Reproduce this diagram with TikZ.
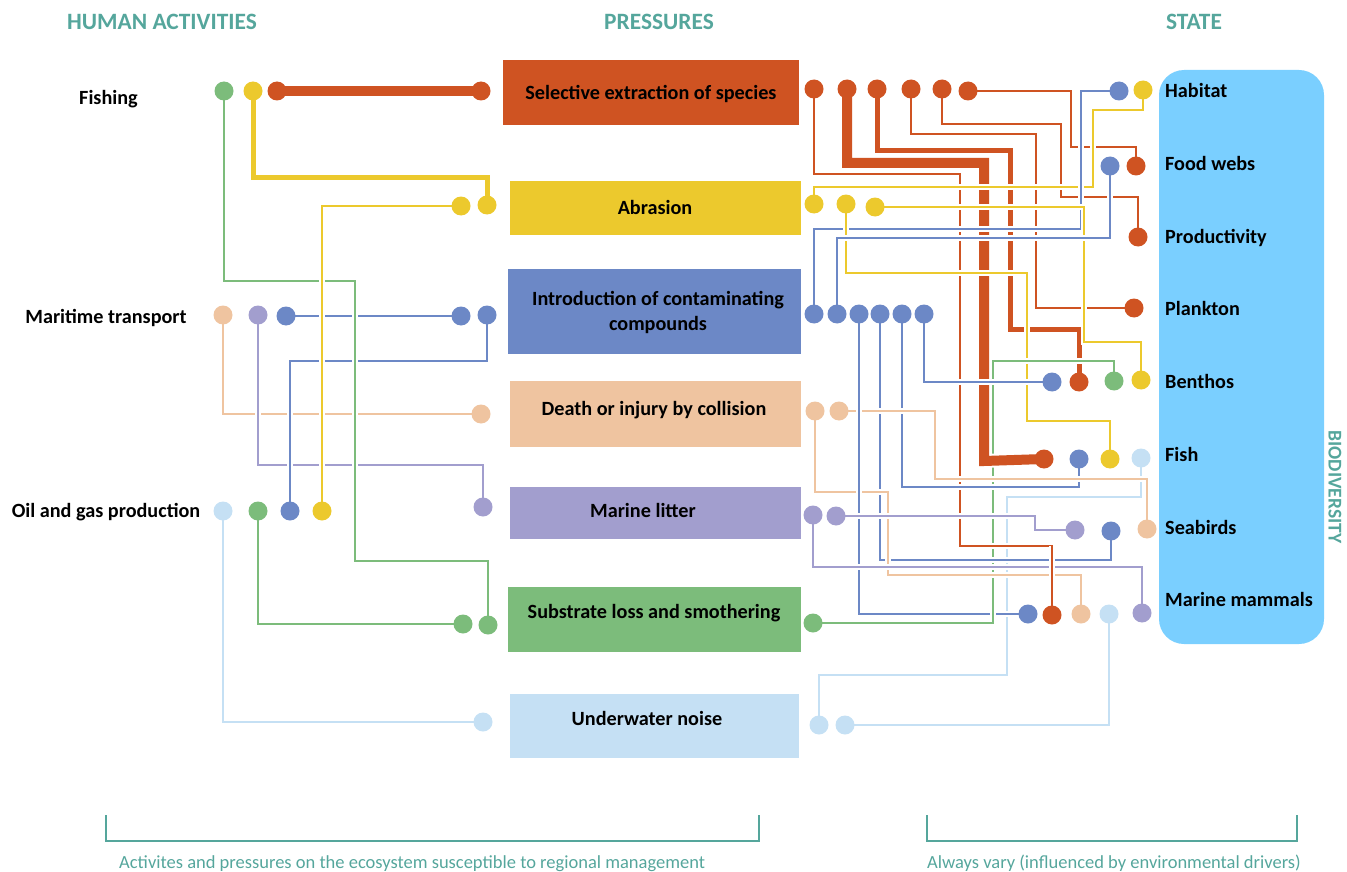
\documentclass[tikz,border=0pt]{standalone}
\usepackage{fontspec}
\setmainfont{Carlito}
\pgfdeclarelayer{wires}
\pgfsetlayers{wires,main}
\definecolor{cred}{HTML}{CF5322}
\definecolor{cyel}{HTML}{ECC92D}
\definecolor{cblu}{HTML}{6C88C6}
\definecolor{cpea}{HTML}{EFC4A0}
\definecolor{cpur}{HTML}{A29ECE}
\definecolor{cgre}{HTML}{7CBC7B}
\definecolor{clbl}{HTML}{C5E0F4}
\definecolor{cpan}{HTML}{7ACFFF}
\definecolor{cteal}{HTML}{55A69C}
\tikzset{
  dot/.style={circle,inner sep=0pt,minimum size=19pt,fill=#1},
  wire/.style={draw=#1,line width=2.3pt,line join=miter,preaction={draw=white,line width=6pt}},
  midwire/.style={draw=#1,line width=5pt,line join=miter,preaction={draw=white,line width=9pt}},
  fatwire/.style={draw=#1,line width=10pt,line join=miter,preaction={draw=white,line width=14pt}},
  pbox/.style={fill=#1,draw=none},
  lab/.style={font=\fontsize{20.2}{25}\selectfont\bfseries,text=black,inner sep=0pt,align=center,anchor=base},
  statelab/.style={lab,anchor=base west},
  head/.style={font=\fontsize{23.4}{26}\selectfont\bfseries,text=cteal,inner sep=0pt},
  note/.style={font=\fontsize{18.5}{22}\selectfont,text=cteal,inner sep=0pt,anchor=west},
  bracket/.style={draw=cteal,line width=1.5pt}
}
\begin{document}
\begin{tikzpicture}[x=1pt,y=-1pt]
\useasboundingbox (0,0) rectangle (1347,872);
% panel
\draw[fill=cpan,draw=none,rounded corners=25pt] (1159,70) rectangle (1324,644);
% boxes
\path[pbox=cred] (503,60) rectangle (799,125);
\path[pbox=cyel] (510,181) rectangle (801,235);
\path[pbox=cblu] (508,269) rectangle (801,354);
\path[pbox=cpea] (510,381) rectangle (801,447);
\path[pbox=cpur] (510,487) rectangle (801,539);
\path[pbox=cgre] (508,587) rectangle (801,652);
\path[pbox=clbl] (510,694) rectangle (799,758);
% headers
\node[head] (hA) at (162,22) {HUMAN ACTIVITIES};
\node[head] (hP) at (659,22) {PRESSURES};
\node[head] (hS) at (1194,22) {STATE};
\node[head,font=\fontsize{19.5}{22}\selectfont\bfseries,rotate=-90] (hB) at (1335,487) {BIODIVERSITY};
% activity labels
\node[lab] (aF) at (108.5,105) {Fishing};
\node[lab] (aM) at (106,323) {Maritime transport};
\node[lab] (aO) at (106,517) {Oil and gas production};
% pressure labels
\node[lab] (pS) at (651,99.5) {Selective extraction of species};
\node[lab] (pA) at (655,214.5) {Abrasion};
\node[lab] (pI1) at (658,305.5) {Introduction of contaminating};
\node[lab] (pI2) at (658,330.5) {compounds};
\node[lab] (pD) at (654,415.5) {Death or injury by collision};
\node[lab] (pM) at (643,517.5) {Marine litter};
\node[lab] (pL) at (654,618.5) {Substrate loss and smothering};
\node[lab] (pU) at (647,725.5) {Underwater noise};
% state labels
\node[statelab] (sH) at (1165,97.5) {Habitat};
\node[statelab] (sW) at (1165,170.5) {Food webs};
\node[statelab] (sP) at (1165,243.5) {Productivity};
\node[statelab] (sK) at (1165,315.5) {Plankton};
\node[statelab] (sB) at (1165,388.5) {Benthos};
\node[statelab] (sF) at (1165,461.5) {Fish};
\node[statelab] (sS) at (1165,534.5) {Seabirds};
\node[statelab] (sM) at (1165,606.5) {Marine mammals};
% left dots
\node[dot=cgre] (fG) at (224,91) {};
\node[dot=cyel] (fY) at (253,91) {};
\node[dot=cred] (fR) at (277,91) {};
\node[dot=cred] (iR) at (481,91) {};
\node[dot=cyel] (iY1) at (461,206) {};
\node[dot=cyel] (iY2) at (487,205) {};
\node[dot=cpea] (mP) at (223,315) {};
\node[dot=cpur] (mU) at (258,315) {};
\node[dot=cblu] (mB) at (286,316) {};
\node[dot=cblu] (iB1) at (461,316) {};
\node[dot=cblu] (iB2) at (487,315) {};
\node[dot=cpea] (iP) at (481,414) {};
\node[dot=cpur] (iU) at (483,507) {};
\node[dot=clbl] (oL) at (223,511) {};
\node[dot=cgre] (oG) at (258,511) {};
\node[dot=cblu] (oB) at (290,511) {};
\node[dot=cyel] (oY) at (322,511) {};
\node[dot=cgre] (iG1) at (463,624) {};
\node[dot=cgre] (iG2) at (488,625) {};
\node[dot=clbl] (iL) at (483,722) {};
% right pressure dots
\node[dot=cred] (r1) at (814,89) {};
\node[dot=cred] (r2) at (847,89) {};
\node[dot=cred] (r3) at (877,89) {};
\node[dot=cred] (r4) at (911,89) {};
\node[dot=cred] (r5) at (942,89) {};
\node[dot=cred] (r6) at (968,91) {};
\node[dot=cyel] (y1) at (814,204) {};
\node[dot=cyel] (y2) at (846,204) {};
\node[dot=cyel] (y3) at (875,207) {};
\node[dot=cblu] (b1) at (814,314) {};
\node[dot=cblu] (b2) at (837,314) {};
\node[dot=cblu] (b3) at (859,314) {};
\node[dot=cblu] (b4) at (880,314) {};
\node[dot=cblu] (b5) at (902,314) {};
\node[dot=cblu] (b6) at (924,314) {};
\node[dot=cpea] (p1) at (815,411) {};
\node[dot=cpea] (p2) at (839,411) {};
\node[dot=cpur] (m1) at (813,515) {};
\node[dot=cpur] (m2) at (836,516) {};
\node[dot=cgre] (g1) at (813,623) {};
\node[dot=clbl] (l1) at (819,725) {};
\node[dot=clbl] (l2) at (845,725) {};
% state dots
\node[dot=cblu] (tHb) at (1119,91) {};
\node[dot=cyel] (tHy) at (1143,90) {};
\node[dot=cblu] (tWb) at (1110,166) {};
\node[dot=cred] (tWr) at (1136,166) {};
\node[dot=cred] (tPr) at (1138,237) {};
\node[dot=cred] (tKr) at (1134,308) {};
\node[dot=cblu] (tBb) at (1052,382) {};
\node[dot=cred] (tBr) at (1079,382) {};
\node[dot=cgre] (tBg) at (1114,381) {};
\node[dot=cyel] (tBy) at (1141,380) {};
\node[dot=cred] (tFr) at (1044,459) {};
\node[dot=cblu] (tFb) at (1079,459) {};
\node[dot=cyel] (tFy) at (1110,459) {};
\node[dot=clbl] (tFl) at (1141,458) {};
\node[dot=cpur] (tSu) at (1075,530) {};
\node[dot=cblu] (tSb) at (1111,531) {};
\node[dot=cpea] (tSp) at (1147,529) {};
\node[dot=cblu] (tMb) at (1028,614) {};
\node[dot=cred] (tMr) at (1052,615) {};
\node[dot=cpea] (tMp) at (1081,614) {};
\node[dot=clbl] (tMl) at (1109,614) {};
\node[dot=cpur] (tMu) at (1142,613) {};
% brackets
\coordinate (bl1) at (106,815); \coordinate (bl2) at (759,815);
\coordinate (br1) at (927,815); \coordinate (br2) at (1297,815);
\draw[bracket] (bl1) |- (432,841) -| (bl2);
\draw[bracket] (br1) |- (1112,841) -| (br2);
\node[note] (nL) at (119,863.5) {Activites and pressures on the ecosystem susceptible to regional management};
\node[note] (nR) at (927,863) {Always vary (influenced by environmental drivers)};
% wires
\begin{pgfonlayer}{wires}
% left side
\draw[fatwire=cred] (fR.center) -- (iR.center);
\draw[midwire=cyel] (fY.center) |- (487,178) -- (iY2.center);
\draw[wire=cpea] (mP.center) |- (iP.center);
\draw[wire=cpur] (mU.center) |- (483,465) -- (iU.center);
\draw[wire=cblu] (mB.center) -- (iB1.center);
\draw[wire=cblu] (iB2.center) |- (290,361) -- (oB.center);
\draw[wire=clbl] (oL.center) |- (iL.center);
\draw[wire=cgre] (oG.center) |- (iG1.center);
\draw[wire=cgre] (fG.center) |- (355,281) |- (488,561) -- (iG2.center);
\draw[wire=cyel] (iY1.center) -| (oY.center);
% right side
\draw[midwire=cred] (r3.center) |- (1010,151) |- (1079,329) -- (tBr.center);
\draw[wire=clbl] (l1.center) |- (1007,675) |- (1141,497) -- (tFl.center);
\draw[wire=clbl] (l2.center) -| (tMl.center);
\draw[wire=cgre] (g1.center) -| (993,361) -| (tBg.center);
\draw[fatwire=cred] (r2.center) |- (984,163) -- (984,461) -- (tFr.center);
\draw[wire=cred] (r1.center) |- (960,174) |- (1052,546) -- (tMr.center);
\draw[wire=cred] (r4.center) |- (1036,134) |- (tKr.center);
\draw[wire=cred] (r5.center) |- (1061,124) |- (1138,197) -- (tPr.center);
\draw[wire=cred] (r6.center) -| (1071,147) -| (tWr.center);
\draw[wire=cyel] (y1.center) |- (1093,187) |- (1143,110) -- (tHy.center);
\draw[wire=cblu] (b1.center) |- (1081,229) |- (tHb.center);
\draw[wire=cyel] (y2.center) |- (1027,273) |- (1110,421) -- (tFy.center);
\draw[wire=cyel] (y3.center) -| (1084,342) -| (tBy.center);
\draw[wire=cblu] (b2.center) |- (1110,238) -- (tWb.center);
\draw[wire=cblu] (b4.center) |- (1111,560) -- (tSb.center);
\draw[wire=cblu] (b5.center) |- (1079,487) -- (tFb.center);
\draw[wire=cblu] (b6.center) |- (tBb.center);
\draw[wire=cpea] (p1.center) |- (888,492) |- (1081,575) -- (tMp.center);
\draw[wire=cpea] (p2.center) -| (935,479) -| (tSp.center);
\draw[wire=cblu] (b3.center) |- (tMb.center);
\draw[wire=cpur] (m1.center) |- (1142,567) -- (tMu.center);
\draw[wire=cpur] (m2.center) -| (1035,530) -- (tSu.center);
% segments that pass over the lines drawn above
\draw[wire=cgre] (g1.center) -| (993,600);
\draw[wire=cgre] (tBg.center) |- (1000,361);
\draw[wire=cred] (tMr.center) -- (1052,546);
\end{pgfonlayer}
\end{tikzpicture}
\end{document}
